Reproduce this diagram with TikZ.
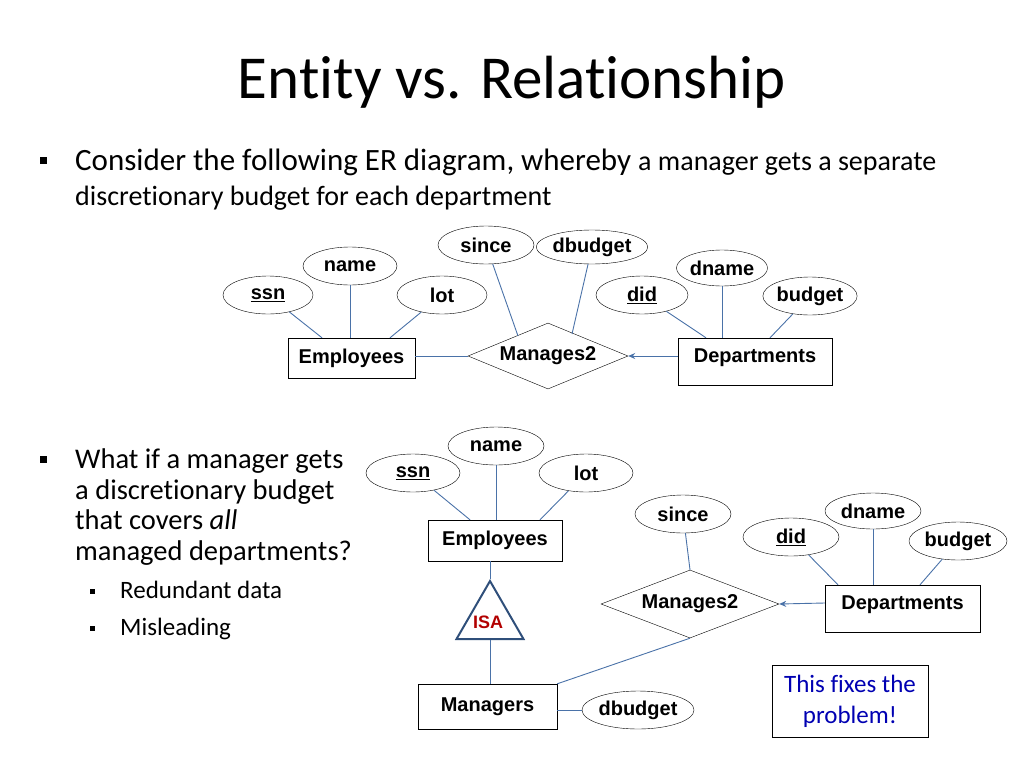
\documentclass[tikz,border=0pt]{standalone}
\usepackage{fontspec}
\setmainfont{Carlito}[Ligatures=NoCommon]
\newfontfamily\arial{Liberation Sans}
\usetikzlibrary{shapes.geometric,arrows.meta}
\definecolor{ln}{HTML}{4A72A8}
\definecolor{dk}{HTML}{2F4F7A}
\begin{document}
\begin{tikzpicture}[x=1pt,y=-1pt,
 ell/.style={ellipse,draw=black,thin,fill=white,inner sep=0pt,font=\arial\bfseries\fontsize{20}{22}\selectfont},
 ent/.style={rectangle,draw=black,thin,fill=white,inner sep=0pt,font=\arial\bfseries\fontsize{20}{22}\selectfont},
 rel/.style={diamond,draw=black,thin,fill=white,inner sep=0pt,aspect=2.5,font=\arial\bfseries\fontsize{20}{22}\selectfont},
 con/.style={draw=ln,line width=0.9pt},
 arr/.style={con,-{Stealth[length=7pt,width=6pt]}},
 txt/.style={anchor=base west,inner sep=0pt},
 bul/.style={fill=black,minimum size=7pt,inner sep=0pt},
 sbul/.style={fill=black,minimum size=5pt,inner sep=0pt}]
\useasboundingbox (0,0) rectangle (1024,768);
\node[anchor=base,inner sep=0pt,font=\fontsize{61}{66}\selectfont] (title) at (512,98) {Entity vs. Relationship};
\node[bul] (b1) at (43,160) {};
\node[txt] (t1) at (75,170) {\fontsize{31}{34}\selectfont Consider the following ER diagram, whereby \fontsize{28}{32}\selectfont a manager gets a separate};
\node[txt] (t2) at (75,205) {\fontsize{28}{32}\selectfont discretionary budget for each department};
\node[bul] (b2) at (43,459) {};
\begin{scope}[every node/.style={txt,font=\fontsize{28.5}{32}\selectfont}]
\node (l1) at (75,468) {What if a manager gets};
\node (l2) at (75,499) {a discretionary budget};
\node (l3) at (75,529) {that covers \textit{all}};
\node (l4) at (75,560) {managed departments?};
\end{scope}
\node[sbul] (s1) at (92,591) {};
\node[sbul] (s2) at (92,628) {};
\node[txt,font=\fontsize{25}{28}\selectfont] (r1) at (120,598) {Redundant data};
\node[txt,font=\fontsize{25}{28}\selectfont] (r2) at (120,635) {Misleading};

% top diagram
\node[ent,minimum width=127pt,minimum height=40pt] (E1) at (351.5,358) {Employees};
\node[rel,minimum width=160pt,minimum height=66pt] (M1) at (548,356) {\raisebox{-4pt}{Manages2}};
\node[ent,minimum width=154pt,minimum height=47pt] (D1) at (755,361.5) {\raisebox{12pt}{Departments}};
\node[ell,minimum width=96pt,minimum height=38pt] (since1) at (486,245) {since};
\node[ell,minimum width=100pt,minimum height=34pt] (dbud1) at (592,247) {dbudget};
\node[ell,minimum width=94pt,minimum height=38pt] (name1) at (350,266) {name};
\node[ell,minimum width=88pt,minimum height=36pt] (dname1) at (722,268) {dname};
\node[ell,minimum width=90pt,minimum height=38pt] (ssn1) at (268,295) {\underline{ssn}};
\node[ell,minimum width=90pt,minimum height=38pt] (lot1) at (442,295) {lot};
\node[ell,minimum width=92pt,minimum height=38pt] (did1) at (642,295) {\underline{did}};
\node[ell,minimum width=92pt,minimum height=38pt] (budget1) at (810,296) {budget};
\draw[con] (ssn1) -- (E1.north -| 322,0);
\draw[con] (name1) -- (E1.north -| 350,0);
\draw[con] (lot1) -- (E1.north -| 390,0);
\draw[con] (since1) -- (518,336);
\draw[con] (dbud1) -- (572,334);
\draw[con] (did1) -- (D1.north -| 706,0);
\draw[con] (dname1) -- (D1.north -| 722,0);
\draw[con] (budget1) -- (D1.north -| 770,0);
\draw[con] (E1.east |- 0,356) -- (M1.west);
\draw[arr] (D1.west |- 0,356) -- (M1.east);

% bottom diagram
\node[ent,minimum width=134pt,minimum height=41pt] (E2) at (495,540.5) {Employees};
\node[draw=dk,line width=2pt,isosceles triangle,isosceles triangle apex angle=60,shape border rotate=90,minimum height=58pt,inner sep=0pt,anchor=apex] (isa) at (490,579) {};
\node[font=\arial\bfseries\fontsize{18}{20}\selectfont,text=red!70!black] (isat) at (488,622) {ISA};
\node[rel,minimum width=178pt,minimum height=68pt] (M2) at (690,604) {Manages2};
\node[ent,minimum width=155pt,minimum height=47pt] (D2) at (902.5,608.5) {\raisebox{12pt}{Departments}};
\node[ent,minimum width=139pt,minimum height=45pt] (Mg) at (487.5,706.5) {\raisebox{-4pt}{Managers}};
\node[ell,minimum width=112pt,minimum height=38pt] (dbud2) at (638,710) {dbudget};
\node[ell,minimum width=96pt,minimum height=38pt] (name2) at (496,446) {name};
\node[ell,minimum width=94pt,minimum height=38pt] (ssn2) at (413,473) {\underline{ssn}};
\node[ell,minimum width=94pt,minimum height=38pt] (lot2) at (586,473) {lot};
\node[ell,minimum width=96pt,minimum height=38pt] (since2) at (683,514) {since};
\node[ell,minimum width=96pt,minimum height=36pt] (dname2) at (873,511) {dname};
\node[ell,minimum width=96pt,minimum height=38pt] (did2) at (791,537) {\underline{did}};
\node[ell,minimum width=98pt,minimum height=38pt] (budget2) at (958,541) {budget};
\draw[con] (ssn2) -- (E2.north -| 470,0);
\draw[con] (name2) -- (E2.north -| 496,0);
\draw[con] (lot2) -- (E2.north -| 540,0);
\draw[con] (E2.south -| 490,0) -- (isa.apex);
\draw[con] (isa.south) -- (Mg.north -| 490,0);
\draw[con] (since2) -- (M2.north);
\draw[con] (M2.south) -- (Mg.north east);
\draw[arr] (D2.west |- 0,603) -- (M2.east);
\draw[con] (did2) -- (D2.north -| 838,0);
\draw[con] (dname2) -- (D2.north -| 873,0);
\draw[con] (budget2) -- (D2.north -| 920,0);
\draw[con] (Mg.east |- 0,710) -- (dbud2.west);
\node[draw=black,thin,minimum width=156pt,minimum height=72pt,align=center,text=blue!70!black,font=\fontsize{25}{31}\selectfont] (note) at (850,701) {This fixes the\\problem!};
\end{tikzpicture}
\end{document}
